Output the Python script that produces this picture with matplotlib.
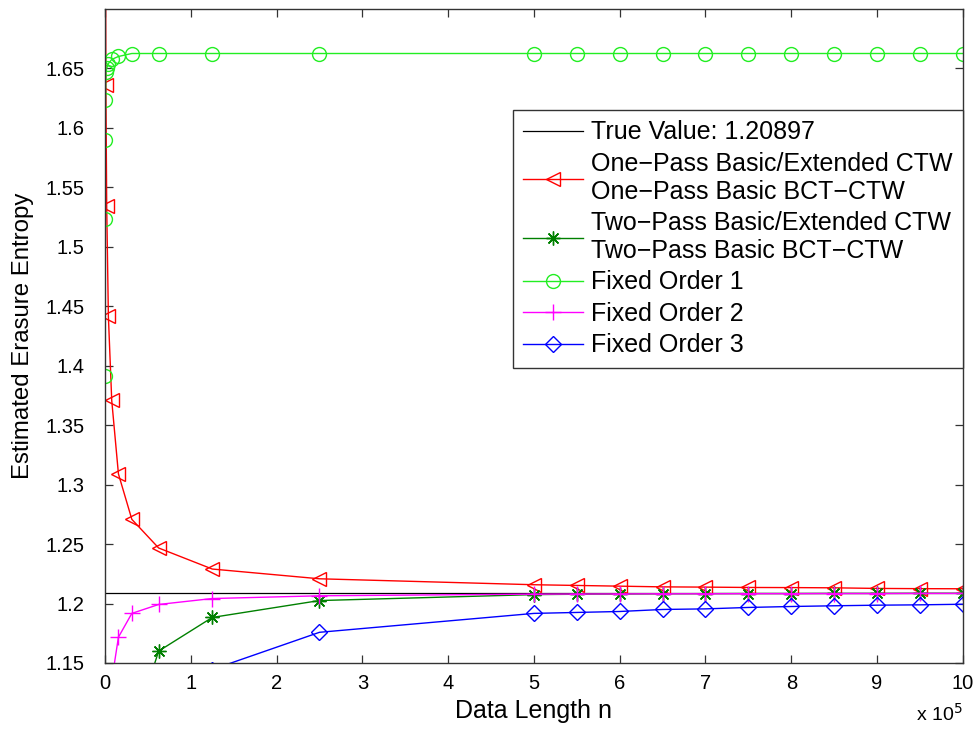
import matplotlib
matplotlib.use("Agg")
import matplotlib.pyplot as plt
import numpy as np

plt.rcParams["font.family"] = ["Liberation Sans", "DejaVu Sans"]

# data lengths (samples)
n = [1000000, 950000, 900000, 850000, 800000, 750000, 700000, 650000,
     600000, 550000, 500000, 250000, 125000, 62500, 31250, 15625, 7812,
     3906, 1953, 976, 488, 244, 122, 61, 30]

true_value = 1.20897

one_pass = [1.2124, 1.2125, 1.2127, 1.2132, 1.2134, 1.2135, 1.2138, 1.2140,
            1.2146, 1.2152, 1.2158, 1.2208, 1.2290, 1.2467, 1.2708, 1.3090,
            1.3708, 1.4417, 1.5340, 1.6358, 1.78, 1.92, 2.05, 2.20, 2.40]
two_pass = [1.2086, 1.2086, 1.2085, 1.2085, 1.2084, 1.2084, 1.2083, 1.2082,
            1.2080, 1.2078, 1.2075, 1.2025, 1.1883, 1.1600, 1.0900, 1.02,
            0.95, 0.90, 0.85, 0.80, 0.75, 0.70, 0.65, 0.60, 0.55]
order1 = [1.6625, 1.6625, 1.6625, 1.6625, 1.6625, 1.6625, 1.6625, 1.6625,
          1.6625, 1.6625, 1.6625, 1.6625, 1.6625, 1.6625, 1.6625, 1.6600,
          1.6575, 1.6540, 1.6500, 1.6467, 1.6230, 1.5900, 1.5230, 1.3910, 1.00]
order2 = [1.2085, 1.2085, 1.2084, 1.2084, 1.2083, 1.2083, 1.2082, 1.2082,
          1.2081, 1.2080, 1.2079, 1.2065, 1.2042, 1.1992, 1.1917, 1.1717,
          1.1350, 1.10, 1.05, 1.00, 0.95, 0.90, 0.85, 0.80, 0.75]
order3 = [1.1994, 1.1989, 1.1986, 1.1981, 1.1975, 1.1967, 1.1955, 1.1950,
          1.1933, 1.1925, 1.1917, 1.1758, 1.1445, 1.10, 1.05, 1.00,
          0.95, 0.90, 0.85, 0.80, 0.75, 0.70, 0.65, 0.60, 0.55]

x = np.array(n) / 1e5

fig = plt.figure(figsize=(9.77, 7.3), dpi=100)
ax = fig.add_axes([0.1075, 0.0918, 0.878, 0.896])

ax.axhline(true_value, color="black", lw=0.9, label="True Value: 1.20897")
ax.plot(x, one_pass, color="#ff0000", lw=1, marker="<", ms=10, mfc="none",
        mew=1, label="One\u2212Pass Basic/Extended CTW\nOne\u2212Pass Basic BCT\u2212CTW")
ax.plot(x, two_pass, color="#008000", lw=1, marker=(8, 2, 0), ms=10,
        mew=1, label="Two\u2212Pass Basic/Extended CTW\nTwo\u2212Pass Basic BCT\u2212CTW")
ax.plot(x, order1, color="#22ee22", lw=1, marker="o", ms=10, mfc="none",
        mew=1, label="Fixed Order 1")
ax.plot(x, order2, color="#ff00ff", lw=1, marker="+", ms=11, mew=1,
        label="Fixed Order 2")
ax.plot(x, order3, color="#0000ff", lw=1, marker="D", ms=8, mfc="none",
        mew=1, label="Fixed Order 3")

ax.set_xlim(0, 10)
ax.set_ylim(1.15, 1.7)
ax.set_xticks(np.arange(0, 11, 1))
ax.set_yticks(np.arange(1.15, 1.66, 0.05))
ax.set_yticklabels(["%g" % round(v, 2) for v in np.arange(1.15, 1.66, 0.05)])
ax.tick_params(direction="in", length=6, width=0.9, top=True, right=True,
               labelsize=14.5, color="#333333")
ax.tick_params(axis="y", pad=15)
ax.tick_params(axis="x", pad=8)
for sp in ax.spines.values():
    sp.set_color("#333333")
    sp.set_linewidth(1)

ax.set_xlabel("Data Length n", fontsize=18, labelpad=4)
ax.set_ylabel("Estimated Erasure Entropy", fontsize=17.3, labelpad=8)
ax.text(1.0, -0.088, r"x 10$^5$", transform=ax.transAxes, ha="right",
        va="baseline", fontsize=14)

leg = ax.legend(loc="upper right", bbox_to_anchor=(1.0, 0.8456),
                borderaxespad=0, fontsize=18, fancybox=False,
                edgecolor="#333333", framealpha=1, handlelength=2.4,
                handletextpad=0.3, labelspacing=0.3, borderpad=0.42,
                numpoints=1)
leg.get_frame().set_linewidth(1)

fig.savefig("out.png", dpi=100)
